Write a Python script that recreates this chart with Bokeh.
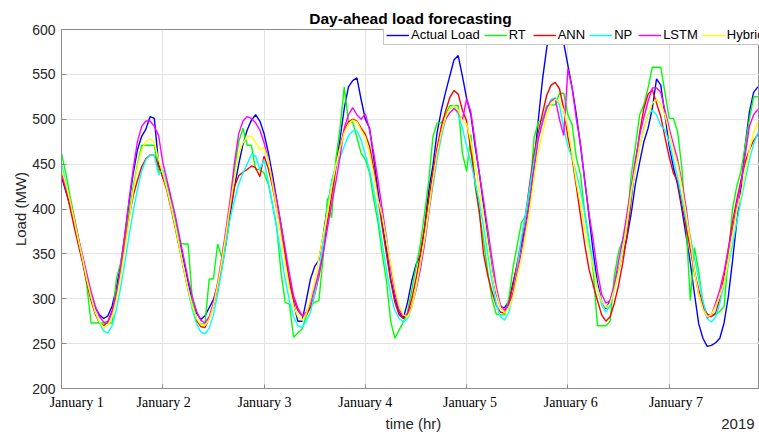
from bokeh.plotting import figure
from bokeh.models import Range1d, FixedTicker, Legend, LegendItem, LinearAxis
from bokeh.embed import file_html
from bokeh.resources import INLINE

hours = list(range(166))

actual = [436,420,405,385,365,346,324,302,290,282,278,281,292,312,338,370,407,440,466,481,489,503,501,450,
          435,425,408,385,362,340,318,298,284,277,281,290,299,315,335,362,395,425,450,472,488,499,505,498,
          484,463,438,410,383,352,320,295,275,275,298,322,336,343,370,402,428,448,478,512,536,543,546,522,
          500,490,456,420,385,355,322,300,285,278,296,320,338,348,378,420,448,485,510,530,548,566,571,548,
          523,505,470,440,405,367,333,306,291,290,297,318,338,360,382,412,452,500,545,580,605,612,606,585,
          560,535,505,470,432,392,352,318,297,289,298,313,332,350,368,395,428,452,475,490,512,545,538,505,
          470,446,427,400,370,340,305,272,256,247,248,251,256,273,302,342,385,422,470,508,530,536]

rt = [462,440,415,392,368,345,315,273,273,273,273,273,273,322,340,365,395,425,450,471,471,471,471,442,
      438,430,410,385,362,361,361,300,275,272,272,322,322,361,346,372,405,445,475,490,471,471,444,444,
      440,428,405,380,330,296,294,257,262,266,281,292,296,298,346,412,390,455,490,536,497,497,480,462,
      455,440,410,385,350,320,275,256,265,274,285,310,335,360,394,430,480,496,496,505,515,515,515,462,
      442,483,425,395,365,330,300,283,282,282,300,335,360,385,392,420,480,497,500,515,516,516,529,529,
      505,494,457,438,395,365,330,270,270,270,275,326,352,366,385,438,470,505,516,535,558,558,558,530,
      501,501,486,446,383,298,357,330,295,282,282,282,286,291,346,400,425,442,470,500,525,525]

ann = [438,422,402,380,360,340,318,298,283,273,270,275,287,305,330,360,390,415,432,447,456,460,460,448,
       436,420,400,378,355,332,310,290,276,269,268,278,292,312,338,368,400,425,437,441,444,448,446,436,
       459,445,425,400,375,348,320,300,287,281,282,290,305,325,352,385,415,445,470,488,497,500,498,490,
       483,470,445,412,380,350,320,296,282,278,283,300,322,348,378,410,440,468,492,509,524,532,528,510,
       498,465,430,398,350,326,308,293,285,284,295,315,340,365,395,430,462,485,507,527,538,541,534,512,
       480,457,425,392,360,333,315,298,282,275,280,295,315,340,370,410,450,485,512,528,533,518,503,480,
       458,440,431,405,380,355,330,310,292,283,280,284,300,325,355,385,410,432,452,466,476,483]

np_load = [450,430,410,388,366,344,322,302,286,273,264,262,270,288,312,340,370,398,422,442,455,460,460,438,
           444,425,405,382,358,334,310,288,272,263,261,267,282,305,332,362,390,410,428,440,450,461,459,444,
           455,430,405,378,350,322,298,280,270,268,275,285,305,330,360,400,432,448,457,470,482,487,487,477,
           460,443,420,393,362,333,305,287,278,274,278,290,310,335,362,395,425,455,480,500,512,515,505,490,
           470,452,430,408,380,350,320,295,280,276,285,305,335,368,395,425,455,480,498,512,522,524,516,490,
           470,457,440,420,395,365,338,312,293,285,293,309,330,355,382,415,445,470,490,505,510,505,493,488,
           475,455,435,412,388,370,345,322,298,278,274,280,295,316,338,360,385,410,432,455,472,485]

lstm = [440,425,410,390,368,348,328,308,292,280,274,274,285,305,335,372,410,445,475,492,498,498,492,482,
        452,432,412,392,368,345,322,302,286,276,273,280,295,318,346,378,412,452,484,498,503,501,496,488,
        474,455,432,410,383,356,328,303,290,281,285,295,312,330,350,378,405,430,458,490,505,513,505,500,
        506,488,462,432,400,368,335,306,288,281,282,292,310,332,360,395,430,462,485,500,507,512,508,499,
        523,508,475,440,410,378,345,314,293,287,293,307,330,352,380,410,445,478,497,513,520,523,500,482,
        556,535,500,472,430,395,365,330,305,295,298,316,342,366,395,425,455,482,502,520,535,535,530,510,
        490,472,455,430,402,365,330,305,290,279,282,295,310,330,355,378,405,428,460,492,505,511]

hybrid = [445,428,410,388,366,345,322,302,285,274,268,270,280,298,324,355,388,420,448,466,475,478,474,455,
          440,422,402,380,356,333,311,292,278,271,270,277,292,315,342,372,405,435,462,474,481,481,474,466,
          468,455,428,400,370,340,312,292,280,276,283,300,320,345,370,395,425,448,468,485,495,499,497,488,
          480,462,438,410,392,365,339,312,292,282,280,290,312,338,365,398,432,462,485,502,512,515,510,498,
          495,475,450,422,395,362,330,308,290,284,290,302,325,345,372,400,435,465,485,505,518,522,520,510,
          490,462,430,405,378,355,335,312,297,290,295,310,330,352,385,420,445,470,488,505,518,522,517,505,
          485,465,450,425,395,365,330,305,288,280,282,292,303,318,342,370,398,415,440,466,485,497]

series_names = ["Actual Load", "RT", "ANN", "NP", "LSTM", "Hybrid"]
series_values = [actual, rt, ann, np_load, lstm, hybrid]
series_colors = ["#0000ff", "#00ff00", "#ff0000", "#00ffff", "#ff00ff", "#ffff00"]

day_labels = ["January 1", "January 2", "January 3", "January 4", "January 5", "January 6", "January 7"]
day_label_hours = [3.6, 24.2, 48.1, 72.0, 96.8, 120.7, 145.6]
day_boundaries = [0, 24, 48, 72, 96, 120, 144]
y_ticks = [200, 250, 300, 350, 400, 450, 500, 550, 600]

# bottom row texts: x-axis title and year, placed on the time scale (hours)
bottom_texts = ["time (hr)", "2019"]
bottom_text_hours = [83.4, 160.3]

AXIS_GRAY = "#8c8c8c"
TEXT_DARK = "#262626"

p = figure(width=759, height=434, output_backend="svg", toolbar_location=None,
           x_range=Range1d(0, 165.4), y_range=Range1d(200, 600),
           min_border_left=61, min_border_right=0, min_border_top=29, min_border_bottom=44,
           title="Day-ahead load forecasting")
p.background_fill_color = "white"
p.border_fill_color = "white"
p.outline_line_color = AXIS_GRAY
p.outline_line_width = 1

p.title.align = "center"
p.title.text_font = "Liberation Sans"
p.title.text_font_size = "15.5px"
p.title.text_font_style = "bold"
p.title.text_color = "black"
p.title.standoff = 5

# y axis
ya = p.yaxis[0]
ya.ticker = FixedTicker(ticks=y_ticks)
ya.axis_label = "Load (MW)"
ya.axis_label_text_font = "Liberation Sans"
ya.axis_label_text_font_size = "15px"
ya.axis_label_text_font_style = "normal"
ya.axis_label_text_color = TEXT_DARK
ya.axis_label_standoff = 0
ya.major_label_text_font = "Liberation Sans"
ya.major_label_text_font_size = "14px"
ya.major_label_text_color = TEXT_DARK
ya.major_label_standoff = 6
ya.major_tick_in = 5
ya.major_tick_out = 0
ya.minor_tick_in = 0
ya.minor_tick_out = 0
ya.axis_line_color = AXIS_GRAY
ya.major_tick_line_color = AXIS_GRAY

# x axis (day labels)
xa = p.xaxis[0]
xa.ticker = FixedTicker(ticks=day_label_hours, minor_ticks=day_boundaries)
xa.major_label_overrides = {h: lab for h, lab in zip(day_label_hours, day_labels)}
xa.major_label_text_font = "Liberation Serif"
xa.major_label_text_font_size = "14px"
xa.major_label_text_color = "black"
xa.major_label_standoff = 6
xa.major_tick_in = 0
xa.major_tick_out = 0
xa.minor_tick_in = 4
xa.minor_tick_out = 0
xa.minor_tick_line_color = AXIS_GRAY
xa.axis_line_color = AXIS_GRAY

# second row below: "time (hr)" and "2019"
xb = LinearAxis(ticker=FixedTicker(ticks=bottom_text_hours),
                major_label_overrides={h: t for h, t in zip(bottom_text_hours, bottom_texts)})
xb.axis_line_color = None
xb.major_tick_line_color = None
xb.minor_tick_line_color = None
xb.major_tick_in = 0
xb.major_tick_out = 0
xb.minor_tick_in = 0
xb.minor_tick_out = 0
xb.major_label_standoff = 2
xb.major_label_text_font = "Liberation Sans"
xb.major_label_text_font_size = "15px"
xb.major_label_text_color = TEXT_DARK
p.add_layout(xb, "below")

p.xgrid.ticker = FixedTicker(ticks=day_boundaries)
p.xgrid.grid_line_color = "#e3e3e3"
p.ygrid.grid_line_color = "#e3e3e3"

renderers = []
for vals, col in zip(series_values, series_colors):
    r = p.line(hours, vals, line_color=col, line_width=1.4)
    renderers.append(r)

legend = Legend(items=[LegendItem(label=n, renderers=[r]) for n, r in zip(series_names, renderers)],
                orientation="horizontal", location=(322, 343))
legend.border_line_color = AXIS_GRAY
legend.border_line_width = 1
legend.background_fill_color = "white"
legend.background_fill_alpha = 1
legend.label_text_font = "Liberation Sans"
legend.label_text_font_size = "13px"
legend.label_text_color = "black"
legend.label_standoff = 2
legend.glyph_width = 23
legend.glyph_height = 14
legend.label_height = 14
legend.spacing = 4
legend.padding = 2
legend.margin = 0
p.add_layout(legend)

open("out.html", "w").write(file_html(p, INLINE))
